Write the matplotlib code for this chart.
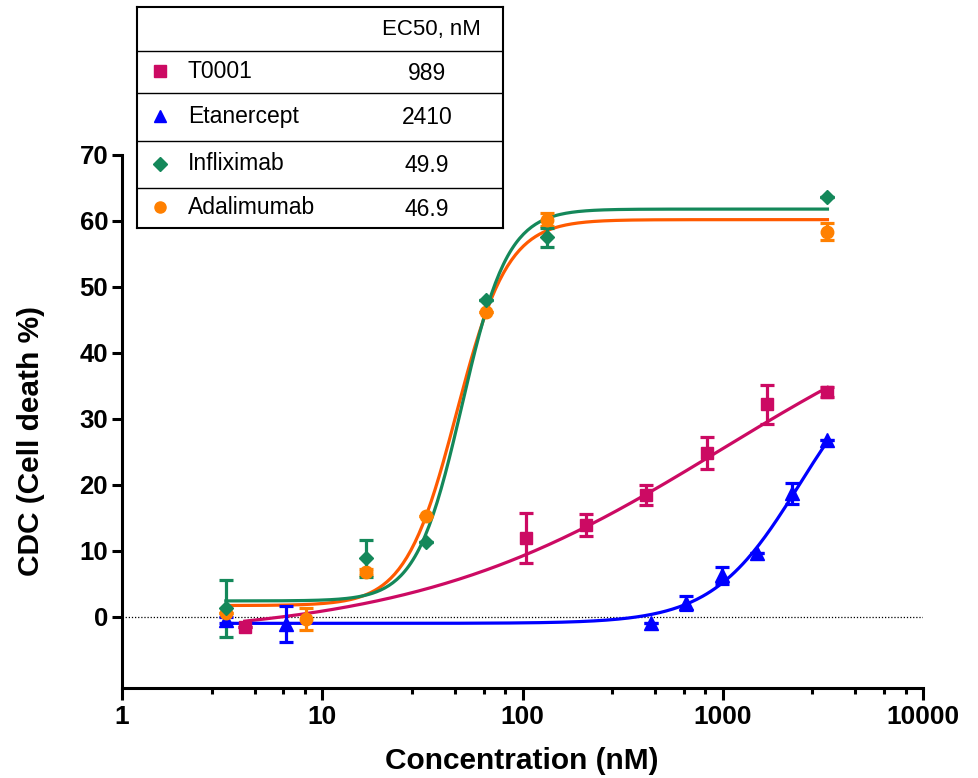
import numpy as np
import matplotlib.pyplot as plt
from matplotlib.ticker import FixedLocator, NullFormatter

plt.rcParams['font.family'] = ['Liberation Sans', 'DejaVu Sans']

# measured points (concentration nM, CDC %, error)
t0001_x = [4.1, 104, 208, 415, 830, 1660, 3333]
t0001_y = [-1.5, 12.0, 13.9, 18.5, 24.8, 32.2, 34.1]
t0001_err = [0, 3.8, 1.7, 1.5, 2.4, 3.0, 0.8]

etan_x = [3.3, 6.6, 439, 658, 988, 1481, 2222, 3333]
etan_y = [-0.5, -1.1, -0.9, 2.1, 6.3, 9.7, 18.7, 26.8]
etan_err = [0.5, 2.7, 0, 1.0, 1.3, 0, 1.6, 0]

infl_x = [3.3, 16.5, 33, 66, 133, 3333]
infl_y = [1.3, 8.9, 11.4, 48.0, 57.5, 63.6]
infl_err = [4.3, 2.8, 0, 0, 1.5, 0]

adal_x = [3.3, 8.3, 16.5, 33, 66, 133, 3333]
adal_y = [0.6, -0.3, 6.8, 15.2, 46.2, 60.2, 58.4]
adal_err = [0, 1.7, 0.5, 0, 0, 1.0, 1.3]

# four parameter fit: bottom, top, EC50, hill
t0001_fit = [-3.2, 54.0, 989, 0.56]
etan_fit = [-1.0, 41.0, 2410, 2.0]
infl_fit = [2.4, 61.8, 49.9, 3.8]
adal_fit = [1.7, 60.2, 46.9, 3.4]

names = ['T0001', 'Etanercept', 'Infliximab', 'Adalimumab']
ec50_text = ['989', '2410', '49.9', '46.9']

W, H = 979, 778
fig = plt.figure(figsize=(W / 100, H / 100), dpi=100)
ax = fig.add_axes([122 / W, 1 - 688 / H, 801 / W, 533 / H])


def fourpl(x, p):
    b, t, c, h = p
    return b + (t - b) / (1 + (c / x) ** h)


series = [
    (t0001_x, t0001_y, t0001_err, t0001_fit, 's', '#CC0A63', '#CC0A63', 8.5),
    (etan_x, etan_y, etan_err, etan_fit, '^', '#0000FF', '#0000FF', 9.5),
    (adal_x, adal_y, adal_err, adal_fit, 'o', '#FF8000', '#FF5A00', 9),
    (infl_x, infl_y, infl_err, infl_fit, 'D', '#14885A', '#14885A', 7.5),
]

ax.axhline(0, color='black', lw=0.9, ls=(0, (1, 1.5)), zorder=1)

for xs, ys, errs, fit, mk, mc, lc, ms in series:
    xx = np.logspace(np.log10(xs[0]), np.log10(xs[-1]), 300)
    ax.plot(xx, fourpl(xx, fit), color=lc, lw=2.3, zorder=2)
    ax.errorbar(xs, ys, yerr=errs, fmt=mk, color=mc, ms=ms, elinewidth=2.3,
                capsize=5, capthick=2.3, zorder=3)

ax.set_xscale('log')
ax.set_xlim(1, 10000)
ax.set_ylim(-10.8, 70)
ax.xaxis.set_major_locator(FixedLocator([1, 10, 100, 1000, 10000]))
ax.set_xticklabels(['1', '10', '100', '1000', '10000'])
minors = []
for d in [1, 10, 100, 1000]:
    for s in [2.8, 4.6, 6.4, 8.2]:
        minors.append(d * s)
ax.xaxis.set_minor_locator(FixedLocator(minors))
ax.xaxis.set_minor_formatter(NullFormatter())
ax.set_yticks(range(0, 71, 10))

for side in ['top', 'right']:
    ax.spines[side].set_visible(False)
for side in ['left', 'bottom']:
    ax.spines[side].set_linewidth(2.2)
ax.tick_params(axis='y', which='major', length=7, width=2.2, pad=3, labelsize=18.5)
ax.tick_params(axis='x', which='major', length=8.5, width=2.2, pad=4, labelsize=19)
ax.tick_params(axis='x', which='minor', length=4, width=2.2)
for lab in ax.get_xticklabels() + ax.get_yticklabels():
    lab.set_fontweight('bold')

fig.text(522 / W, 1 - 761 / H, 'Concentration (nM)', ha='center', va='center',
         fontsize=21.5, fontweight='bold')
fig.text(31 / W, 1 - 441 / H, 'CDC (Cell death %)', ha='center', va='center',
         rotation=90, fontsize=21.5, fontweight='bold')

# EC50 table in the upper left
tab = fig.add_axes([137 / W, 1 - 228 / H, 366 / W, 221 / H])
tab.set_xlim(0, 366)
tab.set_ylim(221, 0)
tab.set_xticks([])
tab.set_yticks([])
for sp in tab.spines.values():
    sp.set_linewidth(1.5)
for yl in [44.4, 86, 134.4, 181]:
    tab.axhline(yl, color='black', lw=1.0)
tab.text(294, 22, 'EC50, nM', ha='center', va='center', fontsize=16)
row_y = [64, 109, 157, 200]
marks = [('s', '#CC0A63', 8), ('^', '#0000FF', 8.5), ('D', '#14885A', 7), ('o', '#FF8000', 8)]
for i in range(4):
    mk, mc, ms = marks[i]
    tab.plot([23], [row_y[i]], marker=mk, color=mc, ms=ms, ls='none')
    tab.text(51, row_y[i], names[i], ha='left', va='center', fontsize=16.5)
    tab.text(290, row_y[i] + 2, ec50_text[i], ha='center', va='center', fontsize=16.5)

fig.savefig('out.png', dpi=100)
